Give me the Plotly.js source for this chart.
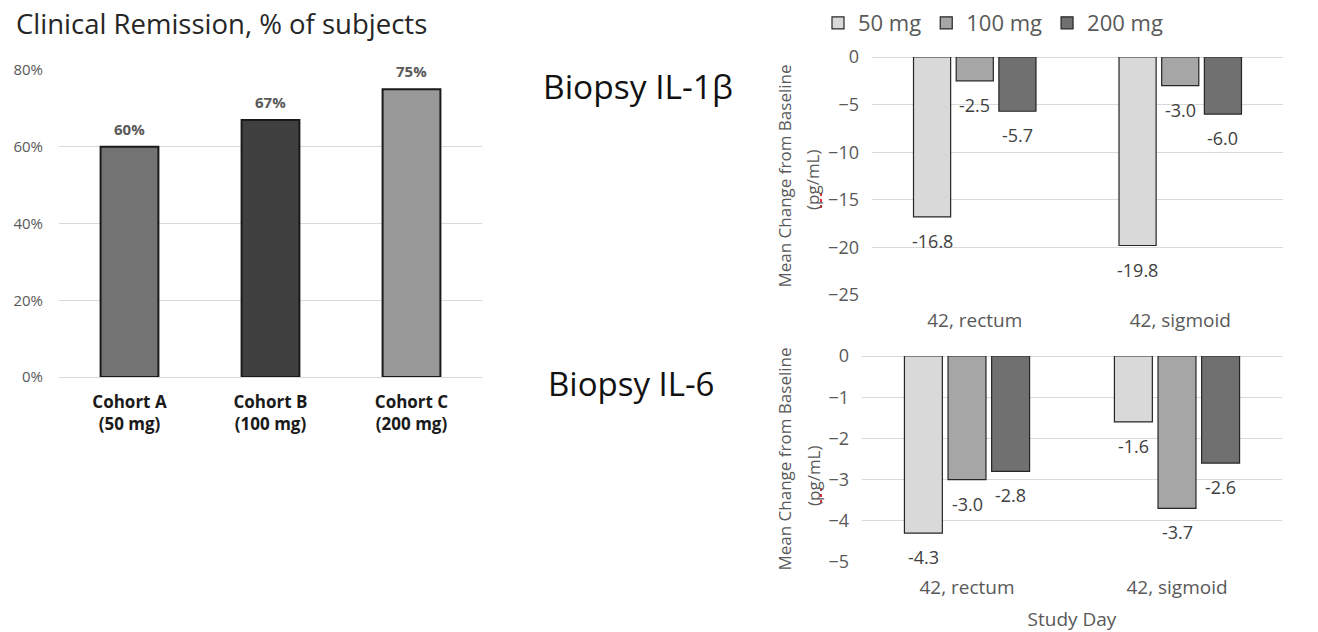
<!DOCTYPE html>
<html>
<head>
<meta charset="utf-8">
<script src="https://cdn.plot.ly/plotly-3.0.1.min.js"></script>
<style>
  html, body { margin: 0; padding: 0; background: #fff; }
  #chart { width: 1318px; height: 632px; }
</style>
</head>
<body>
<div id="chart"></div>
<script>
// Clinical remission by cohort
const cohorts = ['Cohort A<br>(50 mg)', 'Cohort B<br>(100 mg)', 'Cohort C<br>(200 mg)'];
const remission = [0.60, 0.67, 0.75];
const cohortColors = ['#737373', '#404040', '#999999'];

// Biopsy cytokines: mean change from baseline (pg/mL) by dose
const sites = ['42, rectum', '42, sigmoid'];
const doses = ['50 mg', '100 mg', '200 mg'];
const doseColors = ['#d9d9d9', '#a6a6a6', '#707070'];
const il1b50 = [-16.8, -19.8];
const il1b100 = [-2.5, -3.0];
const il1b200 = [-5.7, -6.0];
const il6_50 = [-4.3, -1.6];
const il6_100 = [-3.0, -3.7];
const il6_200 = [-2.8, -2.6];

const W = 1318, H = 632;
const px = v => v / W;          // horizontal pixel -> paper
const py = v => 1 - v / H;      // vertical pixel -> paper

const FONT = 'Open Sans, Noto Sans, sans-serif';
const GRID = '#d9d9d9';
const TEXT = '#595959';
const BARGAP = 0.377;

const traces = [];

traces.push({
  type: 'bar', x: cohorts, y: remission, xaxis: 'x', yaxis: 'y',
  width: 0.41,
  marker: { color: cohortColors, line: { color: '#1a1a1a', width: 2 } },
  showlegend: false, hoverinfo: 'x+y'
});

const il1b = [il1b50, il1b100, il1b200];
const il6 = [il6_50, il6_100, il6_200];

doses.forEach((d, i) => {
  traces.push({
    type: 'bar', name: d, x: sites, y: il1b[i], xaxis: 'x2', yaxis: 'y2',
    legendgroup: d,
    marker: { color: doseColors[i], line: { color: '#262626', width: 1.2 } }
  });
});
doses.forEach((d, i) => {
  traces.push({
    type: 'bar', name: d, x: sites, y: il6[i], xaxis: 'x3', yaxis: 'y3',
    legendgroup: d, showlegend: false,
    marker: { color: doseColors[i], line: { color: '#262626', width: 1.2 } }
  });
});

const annotations = [];

annotations.push({
  text: 'Clinical Remission, % of subjects', xref: 'paper', yref: 'paper',
  x: px(14), y: py(24), xanchor: 'left', yanchor: 'middle', showarrow: false,
  font: { family: FONT, size: 27.5, color: '#262626' }
});
annotations.push({
  text: 'Biopsy IL-1β', xref: 'paper', yref: 'paper',
  x: px(541), y: py(86), xanchor: 'left', yanchor: 'middle', showarrow: false,
  font: { family: FONT, size: 33.5, color: '#111' }
});
annotations.push({
  text: 'Biopsy IL-6', xref: 'paper', yref: 'paper',
  x: px(546), y: py(383), xanchor: 'left', yanchor: 'middle', showarrow: false,
  font: { family: FONT, size: 33, color: '#111' }
});

// unit line of the two y-axis titles
[[180, 'y2'], [476, 'y3']].forEach(([cy]) => {
  annotations.push({
    text: '(pg/mL)', xref: 'paper', yref: 'paper', x: px(813), y: py(cy),
    xanchor: 'center', yanchor: 'middle', textangle: -90, showarrow: false,
    font: { family: FONT, size: 17, color: TEXT }
  });
});

// percentage labels above the cohort bars
remission.forEach((v, i) => {
  annotations.push({
    text: Math.round(v * 100) + '%', xref: 'x', yref: 'y', x: i, y: v,
    yanchor: 'middle', yshift: 18, showarrow: false,
    font: { family: FONT, size: 15, color: TEXT, weight: 'bold' }
  });
});

// value labels below each grouped bar
const slot = (1 - BARGAP) / 3;
function valueLabels(series, xa, ya) {
  series.forEach((vals, i) => {
    vals.forEach((v, j) => {
      annotations.push({
        text: v.toFixed(1), xref: xa, yref: ya, x: j + (i - 1) * slot, y: v,
        yanchor: 'middle', yshift: -24, showarrow: false,
        font: { family: FONT, size: 18, color: '#404040' }
      });
    });
  });
}
valueLabels(il1b, 'x2', 'y2');
valueLabels(il6, 'x3', 'y3');

// spell-check squiggle under "pg"
const shapes = [[193, 208], [488, 503]].map(([y0, y1]) => ({
  type: 'line', xref: 'paper', yref: 'paper',
  x0: px(821), x1: px(821), y0: py(y0), y1: py(y1),
  line: { color: '#e03030', width: 2, dash: 'dot' }
}));

const layout = {
  width: W, height: H,
  margin: { l: 0, r: 0, t: 0, b: 0 },
  paper_bgcolor: '#fff', plot_bgcolor: '#fff',
  font: { family: FONT, color: TEXT },
  barmode: 'group', bargap: BARGAP, bargroupgap: 0.13,
  showlegend: true,
  legend: {
    orientation: 'h', x: px(818), xanchor: 'left', y: py(2), yanchor: 'top',
    font: { family: FONT, size: 22, color: TEXT }, traceorder: 'normal',
    itemwidth: 30
  },
  xaxis: {
    domain: [px(59), px(482)], anchor: 'y', type: 'category',
    showgrid: false, showline: false, ticks: '', ticklabelstandoff: 13,
    tickfont: { family: FONT, size: 17, color: '#1a1a1a', weight: 'bold' },
    fixedrange: true
  },
  yaxis: {
    domain: [py(377), py(70)], anchor: 'x', range: [0, 0.8], dtick: 0.2,
    tickformat: '.0%', gridcolor: GRID, gridwidth: 1,
    zeroline: true, zerolinecolor: GRID, zerolinewidth: 1,
    showline: false, ticks: '', ticklabelstandoff: 15,
    tickfont: { family: FONT, size: 15, color: TEXT },
    fixedrange: true
  },
  xaxis2: {
    domain: [px(872), px(1283)], anchor: 'y2', type: 'category',
    showgrid: false, showline: false, ticks: '', ticklabelstandoff: 12,
    tickfont: { family: FONT, size: 19, color: TEXT },
    fixedrange: true
  },
  yaxis2: {
    domain: [py(295), py(57)], anchor: 'x2', range: [-25, 0], dtick: 5,
    gridcolor: GRID, zeroline: true, zerolinecolor: GRID, zerolinewidth: 1,
    showline: false, ticks: '', ticklabelstandoff: 12,
    tickfont: { family: FONT, size: 18, color: TEXT },
    title: { text: 'Mean Change from Baseline', standoff: 32,
             font: { family: FONT, size: 17, color: TEXT } },
    fixedrange: true
  },
  xaxis3: {
    domain: [px(862), px(1282)], anchor: 'y3', type: 'category',
    showgrid: false, showline: false, ticks: '', ticklabelstandoff: 12,
    tickfont: { family: FONT, size: 19, color: TEXT },
    title: { text: 'Study Day', standoff: 16, font: { family: FONT, size: 19, color: TEXT } },
    fixedrange: true
  },
  yaxis3: {
    domain: [py(562), py(356)], anchor: 'x3', range: [-5, 0], dtick: 1,
    gridcolor: GRID, zeroline: true, zerolinecolor: GRID, zerolinewidth: 1,
    showline: false, ticks: '', ticklabelstandoff: 12,
    tickfont: { family: FONT, size: 18, color: TEXT },
    title: { text: 'Mean Change from Baseline', standoff: 32,
             font: { family: FONT, size: 17, color: TEXT } },
    fixedrange: true
  },
  annotations: annotations,
  shapes: shapes
};

Plotly.newPlot('chart', traces, layout, { displayModeBar: false, staticPlot: true });
</script>
</body>
</html>
